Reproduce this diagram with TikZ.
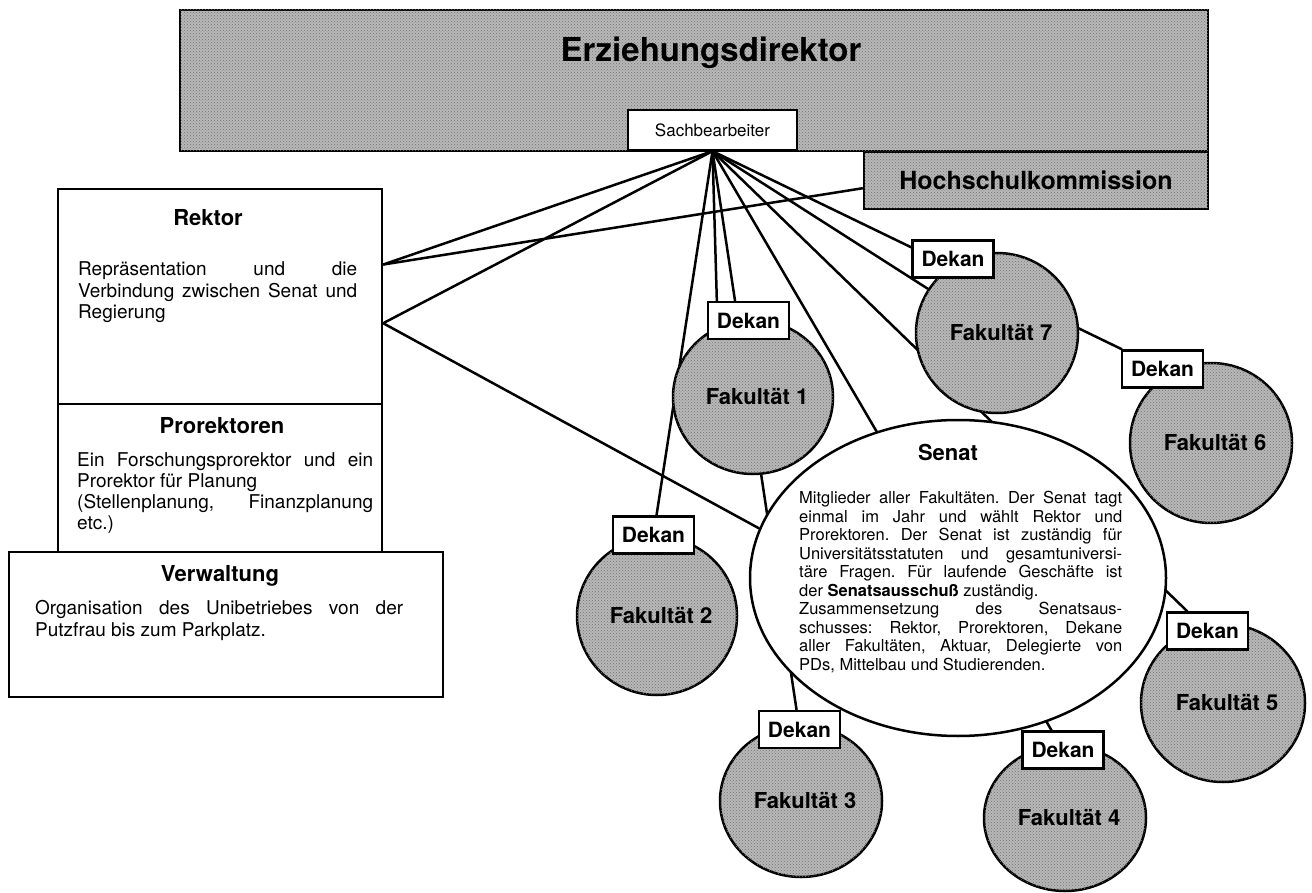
\documentclass[tikz,border=0pt]{standalone}
\usepackage{fontspec}
\setmainfont{TeX Gyre Heros}
\usetikzlibrary{shapes.geometric,calc,patterns}
\pgfdeclarelayer{bgzero}
\pgfdeclarelayer{lines}
\pgfsetlayers{bgzero,lines,main}
\frenchspacing
\newcommand\myTitleFont{\fontsize{22}{26}\selectfont\bfseries}
\newcommand\myDekFont{\fontsize{21}{24}\selectfont\bfseries}
\newcommand\myFakFont{\fontsize{22}{24}\selectfont\bfseries}
\newcommand\mySenFont{\fontsize{16.5}{18.5}\selectfont}
\begin{document}
\begin{tikzpicture}[x=1pt,y=-1pt,
  box/.style={draw,line width=2.3pt,rectangle,inner sep=0pt,fill=white},
  greyfill/.style={fill=black!28,postaction={pattern=crosshatch dots,pattern color=black!55}},
  fak/.style={ellipse,draw,line width=2.5pt,greyfill,inner sep=0pt,font=\myFakFont},
  dekan/.style={box,minimum width=81pt,minimum height=37pt,font=\myDekFont},
  conn/.style={line width=2.5pt},
  titletext/.style={anchor=base,inner sep=0pt,font=\myTitleFont},
  bodytext/.style={anchor=base west,inner sep=0pt,align=left}
]
\begin{pgfonlayer}{bgzero}
\fill[white] (0,0) rectangle (1312,893);
\end{pgfonlayer}
\useasboundingbox (0,0) rectangle (1312,893);

% top box
\node[box,greyfill,minimum width=1028pt,minimum height=141pt] (erz) at (694,80.5) {};
\node[anchor=base,inner sep=0pt,font=\fontsize{33}{36}\selectfont\bfseries] (erztitle) at (711,62) {Erziehungsdirektor};
\node[box,minimum width=169pt,minimum height=40pt,font=\fontsize{17}{20}\selectfont] (sach) at (712.5,130) {Sachbearbeiter};
\node[box,greyfill,minimum width=344pt,minimum height=57pt,font=\fontsize{25}{28}\selectfont\bfseries] (hoch) at (1036,180.5) {Hochschulkommission};

% left boxes
\node[box,minimum width=324pt,minimum height=215pt] (rektor) at (220,296.5) {};
\node[box,minimum width=324pt,minimum height=148pt] (prorek) at (220,478) {};
\node[box,minimum width=434pt,minimum height=145pt] (verw) at (226,624.5) {};
\node[titletext] (rektortitle) at (208,226) {Rektor};
\node[bodytext] (rektorbody) at (78,276) {\parbox[t]{279pt}{\fontsize{19}{21.5}\selectfont\tolerance=10000\hbadness=10000
Repräsentation und die\linebreak Verbindung zwischen Senat und\linebreak Regierung}};
\node[titletext] (prorektitle) at (222,433) {Prorektoren};
\node[bodytext] (prorekbody) at (77,466) {\parbox[t]{296pt}{\fontsize{19}{21}\selectfont\tolerance=10000\hbadness=10000
Ein Forschungsprorektor und ein\linebreak Prorektor für Planung\\
(Stellenplanung, Finanzplanung\linebreak etc.)}};
\node[titletext] (verwtitle) at (220,581) {Verwaltung};
\node[bodytext] (verwbody) at (35,614) {\parbox[t]{368pt}{\fontsize{19}{22}\selectfont\tolerance=10000\hbadness=10000
Organisation des Unibetriebes von der\linebreak Putzfrau bis zum Parkplatz.}};

% Senat
\node[ellipse,draw,line width=2.5pt,fill=white,inner sep=0pt,minimum width=416pt,minimum height=316pt] (senat) at (958,578) {};
\node[titletext] (senattitle) at (948,460) {Senat};
\node[bodytext] (senatbody) at (799,503.5) {\parbox[t]{323pt}{\mySenFont\tolerance=10000\hbadness=10000
Mitglieder aller Fakultäten. Der Senat tagt\linebreak einmal im Jahr und wählt Rektor und\linebreak Prorektoren. Der Senat ist zuständig für\linebreak Universitätsstatuten und gesamtuniversi-\linebreak täre Fragen. Für laufende Geschäfte ist\linebreak der \textbf{Senatsausschuß} zuständig.\\
Zusammensetzung des Senatsaus-\linebreak schusses: Rektor, Prorektoren, Dekane\linebreak aller Fakultäten, Aktuar, Delegierte von\linebreak PDs, Mittelbau und Studierenden.}};

% Fakultaeten
\node[fak,minimum width=160pt,minimum height=154pt] (f1) at (753,397) {\hspace*{8pt}Fakultät 1};
\node[fak,minimum width=160pt,minimum height=158pt] (f2) at (657,616) {\hspace*{8pt}Fakultät 2};
\node[fak,minimum width=162pt,minimum height=152pt] (f3) at (801,801) {\hspace*{8pt}Fakultät 3};
\node[fak,minimum width=162pt,minimum height=146pt] (f4) at (1065,818) {\hspace*{8pt}Fakultät 4};
\node[fak,minimum width=164pt,minimum height=158pt] (f5) at (1223,703) {\hspace*{8pt}Fakultät 5};
\node[fak,minimum width=162pt,minimum height=160pt] (f6) at (1211,443) {\hspace*{8pt}Fakultät 6};
\node[fak,minimum width=162pt,minimum height=160pt] (f7) at (997,333) {\hspace*{8pt}Fakultät 7};

% Dekane
\node[dekan] (d1) at (748.5,320.5) {Dekan};
\node[dekan] (d2) at (653.5,535) {Dekan};
\node[dekan] (d3) at (799.5,729.5) {Dekan};
\node[dekan] (d4) at (1063,750) {Dekan};
\node[dekan] (d5) at (1207.5,631) {Dekan};
\node[dekan] (d6) at (1162.5,369) {Dekan};
\node[dekan] (d7) at (953,259) {Dekan};

% connectors
\coordinate (r1) at ($(rektor.north east)!0.353!(rektor.south east)$);
\coordinate (r2) at ($(rektor.north east)!0.623!(rektor.south east)$);
\coordinate (h1) at ($(hoch.north west)!0.63!(hoch.south west)$);
\coordinate (d1top) at ($(d1.north west)!0.12!(d1.north east)$);
\begin{pgfonlayer}{lines}
\draw[conn] (sach.south) -- (r1);
\draw[conn] (sach.south) -- (r2);
\draw[conn] (h1) -- (r1);
\draw[conn] (r2) -- (senat.166);
\draw[conn] (sach.south) -- (d2);
\draw[conn] (sach.south) -- (d1top);
\draw[conn] (sach.south) -- (d3);
\draw[conn] (sach.south) -- (d4);
\draw[conn] (sach.south) -- (f7);
\draw[conn] (sach.south) -- (d6);
\draw[conn] (sach.south) -- (d5);
\end{pgfonlayer}
\end{tikzpicture}
\end{document}
